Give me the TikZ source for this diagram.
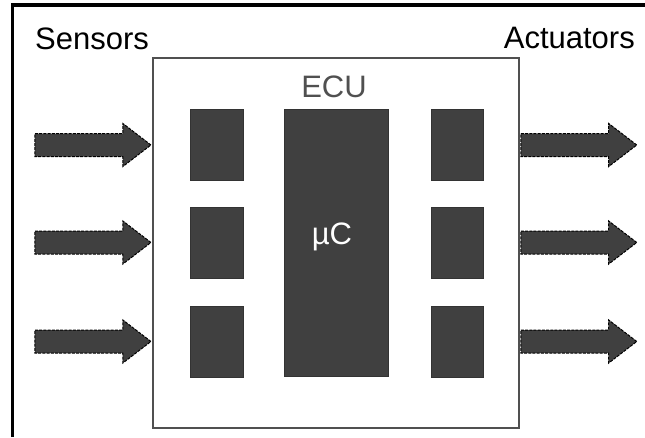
\documentclass[tikz,border=0pt]{standalone}
\usepackage{fontspec}
\setmainfont{Liberation Sans}
\usetikzlibrary{shapes.arrows}
\definecolor{chipgray}{HTML}{404040}
\definecolor{ecugray}{HTML}{505050}
\tikzset{
  chip/.style={draw=black!80,fill=chipgray,line width=0.8pt,inner sep=0pt,minimum width=53pt,minimum height=71pt},
  sigarrow/.style={single arrow,draw=black,dash pattern=on 3pt off 1.2pt,fill=chipgray,line width=1pt,inner xsep=0pt,inner ysep=11pt,
    minimum height=116pt,single arrow head extend=10pt,single arrow tip angle=75},
  lbl/.style={font=\fontsize{31}{36}\selectfont,inner sep=0pt}
}
\begin{document}
\begin{tikzpicture}[x=1pt,y=-1pt]
  \useasboundingbox (0,0) rectangle (645,437);
  \draw[line width=3.5pt] (12.5,437) |- (645,5);
  \node[draw=ecugray,line width=2.5pt,inner sep=0pt,minimum width=366pt,minimum height=370pt] (ecu) at (336,243) {};
  \node[lbl,anchor=base west] (sens) at (35,49) {Sensors};
  \node[lbl,anchor=base east] (act) at (635,48) {Actuators};
  \node[lbl,anchor=base,text=ecugray] (title) at (334,97) {ECU};
  % chips
  \node[chip,minimum width=104pt,minimum height=267pt] (uc) at (336,242.5) {};
  \node[lbl,anchor=base,text=white] at (332,244) {µC};
  \foreach \n/\y in {1/145,2/242.5,3/341.5} {
    \node[chip] (l\n) at (216.5,\y) {};
    \node[chip,minimum width=52pt] (r\n) at (457,\y) {};
    \node[sigarrow,anchor=tip] (in\n) at (ecu.west |- l\n) {};
    \node[sigarrow,anchor=tail] (out\n) at (ecu.east |- r\n) {};
  }
\end{tikzpicture}
\end{document}
